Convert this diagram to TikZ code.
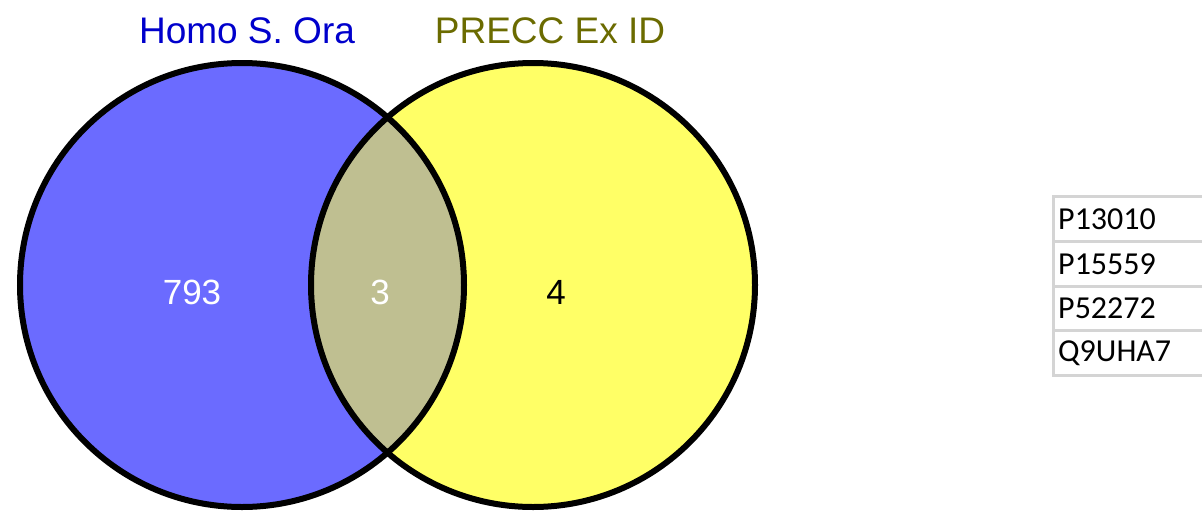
\documentclass[tikz,border=0pt]{standalone}
\usepackage{fontspec}
\setmainfont{Liberation Sans}
\newfontfamily\cellfont{Carlito}
\definecolor{vblue}{RGB}{107,107,255}
\definecolor{vyellow}{RGB}{255,255,102}
\definecolor{vmix}{RGB}{191,191,145}
\definecolor{tblue}{RGB}{0,0,204}
\definecolor{tolive}{RGB}{107,107,0}
\definecolor{gridgray}{RGB}{212,212,212}
\tikzset{
  settitle/.style={anchor=base, inner sep=0pt, font=\fontsize{37}{40}\selectfont},
  setcount/.style={inner sep=0pt, font=\fontsize{35}{38}\selectfont},
  cellbox/.style={anchor=west, inner sep=0pt, font=\cellfont\fontsize{32}{36}\selectfont},
  outline/.style={draw=black, line width=6pt},
  gridline/.style={draw=gridgray, line width=3pt}
}
\begin{document}
\begin{tikzpicture}[x=1pt,y=-1pt]
\useasboundingbox (0,0) rectangle (1202,512);
\coordinate (cA) at (242,285);
\coordinate (cB) at (533,285);
\fill[vblue] (cA) circle (222);
\fill[vyellow] (cB) circle (222);
\begin{scope}
  \clip (cA) circle (222);
  \fill[vmix] (cB) circle (222);
\end{scope}
\draw[outline] (cA) circle (222);
\draw[outline] (cB) circle (222);
\node[settitle, text=tblue] (tA) at (247,43) {Homo S. Ora};
\node[settitle, text=tolive] (tB) at (550,43) {PRECC Ex ID};
\node[setcount, text=white] (nA) at (192,292) {793};
\node[setcount, text=white] (nAB) at (380,292) {3};
\node[setcount, text=black] (nB) at (556,292) {4};
% table
\draw[gridline] (1202,196) -- (1053,196) -- (1053,375) -- (1202,375);
\draw[gridline] (1053,241) -- (1202,241);
\draw[gridline] (1053,286) -- (1202,286);
\draw[gridline] (1053,330) -- (1202,330);
\node[cellbox] (r1) at (1058,219) {P13010};
\node[cellbox] (r2) at (1058,264) {P15559};
\node[cellbox] (r3) at (1058,308) {P52272};
\node[cellbox] (r4) at (1058,353) {Q9UHA7};
\end{tikzpicture}
\end{document}
